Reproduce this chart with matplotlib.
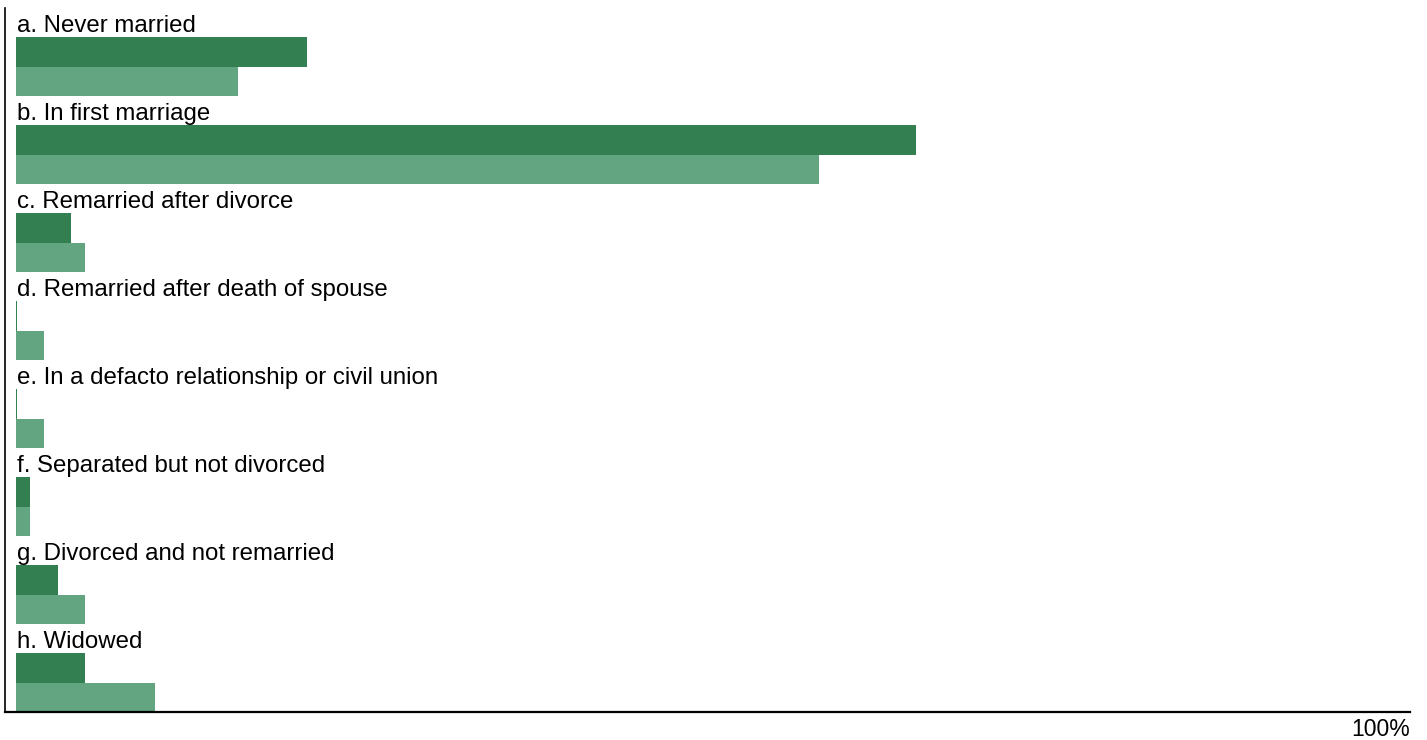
import matplotlib
matplotlib.use("Agg")
from matplotlib import pyplot as plt

# marital status categories, top to bottom
categories = [
    "a. Never married",
    "b. In first marriage",
    "c. Remarried after divorce",
    "d. Remarried after death of spouse",
    "e. In a defacto relationship or civil union",
    "f. Separated but not divorced",
    "g. Divorced and not remarried",
    "h. Widowed",
]
# percentages (dark series, light series)
dark_values = [21, 65, 4, 0.1, 0.1, 1, 3, 5]
light_values = [16, 58, 5, 2, 2, 1, 5, 10]

dark_color = "#337f52"
light_color = "#63a580"

plt.rcParams["font.family"] = ["Liberation Sans", "DejaVu Sans"]

W, H = 1427, 740
fig = plt.figure(figsize=(W / 100, H / 100), dpi=100)
# axes box in pixels: left 5, right 1410, top 8, bottom 712
ax = fig.add_axes([5 / W, (H - 712) / H, (1410 - 5) / W, (712 - 8) / H])

# each group is one unit tall: label strip, dark bar, light bar
bar_h = 1 / 3
for i, (cat, d, l) in enumerate(zip(categories, dark_values, light_values)):
    ax.barh(i + 0.5, d, height=bar_h, color=dark_color, linewidth=0)
    ax.barh(i + 5 / 6, l, height=bar_h, color=light_color, linewidth=0)
    ax.text(0.05, i + 0.27, cat, fontsize=17.25, ha="left", va="baseline")

ax.set_xlim(-0.8, 100.65)
ax.set_ylim(len(categories), 0)

ax.spines["top"].set_visible(False)
ax.spines["right"].set_visible(False)
ax.spines["left"].set_linewidth(1.2)
ax.spines["bottom"].set_linewidth(1.6)
ax.set_xticks([])
ax.set_yticks([])

ax.annotate("100%", xy=(1, 0), xycoords="axes fraction",
            xytext=(0, -17.3), textcoords="offset points",
            ha="right", va="baseline", fontsize=16.5)

plt.savefig("out.png", dpi=100)
